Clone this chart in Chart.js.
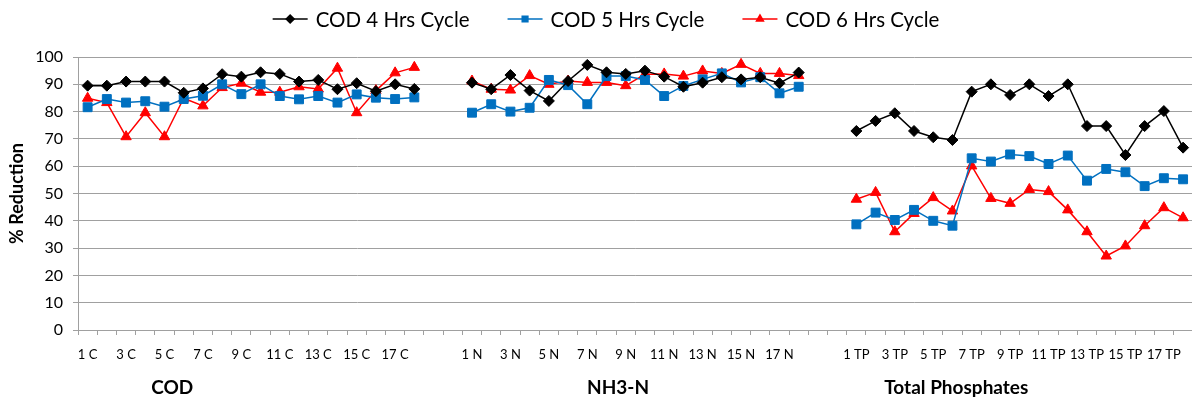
<!DOCTYPE html>
<html>
<head>
<meta charset="utf-8">
<script src="https://cdn.jsdelivr.net/npm/chart.js@4/dist/chart.umd.min.js"></script>
<style>
  html, body { margin: 0; padding: 0; background: #fff; overflow: hidden; }
</style>
</head>
<body>
<canvas id="chart" width="1200" height="403"></canvas>
<script>
// Sample numbers per group (18 runs each)
const runs = ["1","2","3","4","5","6","7","8","9","10","11","12","13","14","15","16","17","18"];
const codLabels = runs.map(n => n + " C");
const nh3Labels = runs.map(n => n + " N");
const tpLabels = runs.map(n => n + " TP");
const groupNames = ["COD", "NH3-N", "Total Phosphates"];

// % reduction
const cod4 = [89.5, 89.5, 91, 91, 91, 86.9, 88.5, 93.7, 92.8, 94.4, 93.8, 91, 91.6, 88.2, 90.4, 87.5, 90, 88.3];
const cod5 = [81.6, 84.6, 83.3, 83.8, 81.8, 84.6, 85.8, 90, 86.4, 90, 85.7, 84.5, 85.7, 83.3, 86.3, 85.1, 84.6, 85.2];
const cod6 = [84.9, 83.3, 70.8, 79.6, 70.8, 84.9, 82.1, 88.8, 90.4, 87.1, 87.1, 89.1, 88.3, 95.9, 79.6, 87.7, 94.2, 96.2];

const nh4 = [90.6, 88.2, 93.4, 87.7, 83.9, 91.2, 97.1, 94.4, 93.8, 95, 92.8, 89.1, 90.6, 92.6, 91.8, 92.6, 90.4, 94.3];
const nh5 = [79.6, 82.7, 80.0, 81.4, 91.6, 89.7, 82.7, 93.0, 93.0, 91.6, 85.7, 89.4, 91.8, 94.0, 90.7, 92.6, 86.7, 89.1];
const nh6 = [91.2, 88.2, 87.9, 93.2, 90.0, 91.2, 90.7, 90.7, 89.5, 93.7, 93.8, 93.0, 94.9, 94.0, 97.3, 94.0, 94.0, 93.2];

const tp4 = [72.9, 76.6, 79.4, 72.9, 70.6, 69.6, 87.3, 90.0, 86.1, 90.0, 85.7, 90.0, 74.7, 74.7, 64.1, 74.7, 80.2, 66.8];
const tp5 = [38.7, 43.0, 40.3, 44.0, 40.0, 38.2, 62.9, 61.7, 64.3, 63.7, 60.8, 63.9, 54.7, 59.0, 57.8, 52.7, 55.6, 55.2];
const tp6 = [47.9, 50.4, 36.0, 42.7, 48.5, 43.6, 60.1, 48.2, 46.4, 51.5, 50.7, 44.0, 36.0, 27.1, 30.8, 38.2, 44.8, 41.1];

const yTicks = [0, 10, 20, 30, 40, 50, 60, 70, 80, 90, 100];

// two empty categories between groups
const gap = ["", ""];
const labels = [...codLabels, ...gap, ...nh3Labels, ...gap, ...tpLabels];
const join = (a, b, c) => [...a, null, null, ...b, null, null, ...c];

const series = [
  { label: "COD 4 Hrs Cycle", data: join(cod4, nh4, tp4), color: "#000000", style: "rectRot", r: 5.5 },
  { label: "COD 5 Hrs Cycle", data: join(cod5, nh5, tp5), color: "#0070C0", style: "rect", r: 6.3 },
  { label: "COD 6 Hrs Cycle", data: join(cod6, nh6, tp6), color: "#FF0000", style: "triangle", r: 6 }
];

const FONT = "Lato, 'Open Sans', sans-serif";
const VIEW_W = 1192;

// legend with line + marker, like the spreadsheet one
const lineLegend = {
  id: "lineLegend",
  afterDraw(chart) {
    const ctx = chart.ctx;
    ctx.save();
    ctx.font = "20.5px " + FONT;
    ctx.textBaseline = "middle";
    const segW = 35, gapText = 8, gapItem = 38;
    const widths = series.map(s => ctx.measureText(s.label).width);
    const total = widths.reduce((a, w) => a + segW + gapText + w, 0) + gapItem * (series.length - 1);
    let x = VIEW_W / 2 + 10 - total / 2;
    const y = 19;
    series.forEach((s, i) => {
      ctx.strokeStyle = s.color;
      ctx.lineWidth = 1.5;
      ctx.beginPath();
      ctx.moveTo(x, y);
      ctx.lineTo(x + segW, y);
      ctx.stroke();
      ctx.fillStyle = s.color;
      Chart.helpers.drawPoint(ctx, { pointStyle: s.style, radius: 4, borderWidth: 1 }, x + segW / 2, y);
      ctx.fillStyle = "#000";
      ctx.fillText(s.label, x + segW + gapText, y + 1);
      x += segW + gapText + widths[i] + gapItem;
    });
    ctx.restore();
  }
};

// group captions under the category labels
const groupAt = [4.4, 27.6, 45.2];
const groupCaptions = {
  id: "groupCaptions",
  afterDraw(chart) {
    const xs = chart.scales.x;
    const step = xs.getPixelForTick(1) - xs.getPixelForTick(0);
    const ctx = chart.ctx;
    ctx.save();
    ctx.font = "bold 19px " + FONT;
    ctx.fillStyle = "#000";
    ctx.textAlign = "center";
    ctx.textBaseline = "middle";
    groupNames.forEach((g, i) => {
      ctx.fillText(g, xs.getPixelForTick(0) + groupAt[i] * step, 388);
    });
    ctx.restore();
  }
};

new Chart(document.getElementById("chart"), {
  type: "line",
  data: {
    labels: labels,
    datasets: series.map(s => ({
      label: s.label,
      data: s.data,
      borderColor: s.color,
      backgroundColor: s.color,
      borderWidth: 1.5,
      pointStyle: s.style,
      pointRadius: s.r,
      pointBorderWidth: 1,
      pointBackgroundColor: s.color,
      pointBorderColor: s.color,
      spanGaps: false,
      tension: 0
    }))
  },
  options: {
    responsive: false,
    animation: false,
    clip: false,
    layout: { padding: { top: 57, right: 0, left: 0, bottom: 0 } },
    plugins: {
      legend: { display: false },
      tooltip: { enabled: false }
    },
    scales: {
      x: {
        offset: true,
        afterFit(scale) { scale.height = 73; },
        grid: {
          offset: true,
          drawOnChartArea: false,
          drawTicks: true,
          tickLength: 5,
          color: "#A0A0A0"
        },
        border: { color: "#A0A0A0" },
        ticks: {
          autoSkip: false,
          maxRotation: 0,
          minRotation: 0,
          padding: 12,
          color: "#000",
          font: { family: FONT, size: 13 },
          callback: (v, i) => (i % 2 === 0 ? labels[i] : "")
        }
      },
      y: {
        min: 0,
        max: 100,
        afterFit(scale) { scale.width = 78; },
        afterBuildTicks(scale) { scale.ticks = yTicks.map(v => ({ value: v })); },
        grid: {
          color: "#A0A0A0",
          tickLength: 5
        },
        border: { color: "#A0A0A0" },
        ticks: {
          color: "#000",
          padding: 10,
          font: { family: FONT, size: 16 }
        },
        title: {
          display: true,
          text: "% Reduction",
          color: "#000",
          font: { family: FONT, size: 18, weight: "bold" },
          padding: { top: 6, bottom: 0 }
        }
      }
    }
  },
  plugins: [lineLegend, groupCaptions]
});
</script>
</body>
</html>
